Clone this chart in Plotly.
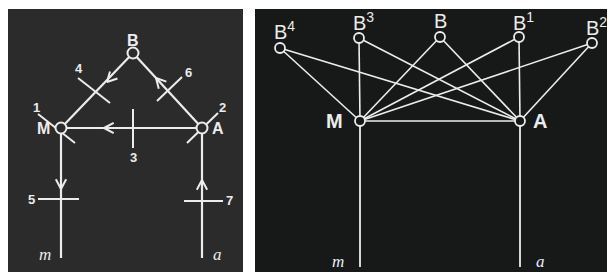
import numpy as np
import plotly.graph_objects as go

# ---------------- data ----------------
# Left diagram nodes (pixel coordinates of the original drawing)
left_nodes = {"M": (61, 128), "A": (202, 128), "B": (133, 53)}
left_feet = {"m": (61, 258), "a": (202, 258)}
left_edges = [("B", "M"), ("B", "A"), ("M", "A")]
left_numbers = ["1", "2", "3", "4", "5", "6", "7"]
left_number_pos = [(36, 107), (222, 107), (133, 157), (79, 68), (31, 199), (188, 72), (229, 200)]
left_crossbars = [((38, 114), (75, 143)), ((187, 143), (218, 113)), ((133, 109), (133, 148)),
                  ((78, 78), (110, 103)), ((38, 199), (79, 199)), ((157, 101), (182, 77)),
                  ((184, 201), (223, 201))]
# arrows: (tip, direction)
left_arrows = [((61, 189), (0, 1)), ((202, 180), (0, -1)), ((104, 128), (-1, 0)),
               ((107, 82), (-72, 75)), ((156, 78), (-69, -75))]

# Right diagram nodes
right_top_names = ["B<sup>4</sup>", "B<sup>3</sup>", "B", "B<sup>1</sup>", "B<sup>2</sup>"]
right_top_x = [280, 359, 440, 519, 592]
right_top_y = [48, 38, 37, 37, 43]
right_label_y = [30, 21, 21, 21, 26]
right_M = (360, 121)
right_A = (520, 121)
right_feet_y = 267

BG_L = "#2b2b2b"
BG_R = "#161918"
INK = "#ececec"
PAGE_MARGIN = 8  # default body margin of the html page

fig = go.Figure()

def seg(p, q, w=2.0, color=INK):
    fig.add_trace(go.Scatter(x=[p[0], q[0]], y=[p[1], q[1]], mode="lines",
                             line=dict(color=color, width=w), hoverinfo="skip", showlegend=False))

# ----- left diagram -----
for a, b in left_edges:
    seg(left_nodes[a], left_nodes[b], 2.2)
seg(left_nodes["M"], left_feet["m"], 2.2)
seg(left_nodes["A"], left_feet["a"], 2.2)
for p, q in left_crossbars:
    seg(p, q, 2.0)
for tip, d in left_arrows:
    d = np.array(d, float); d /= np.linalg.norm(d)
    n = np.array([-d[1], d[0]])
    t = np.array(tip, float)
    L, th = 11, np.radians(28)
    a1 = t - L * (np.cos(th) * d + np.sin(th) * n)
    a2 = t - L * (np.cos(th) * d - np.sin(th) * n)
    fig.add_trace(go.Scatter(x=[a1[0], t[0], a2[0]], y=[a1[1], t[1], a2[1]], mode="lines",
                             line=dict(color=INK, width=2), hoverinfo="skip", showlegend=False))

fig.add_trace(go.Scatter(x=[v[0] for v in left_nodes.values()], y=[v[1] for v in left_nodes.values()],
                         mode="markers", marker=dict(size=11, color=BG_L, line=dict(color=INK, width=2)),
                         hoverinfo="skip", showlegend=False))

big = dict(family="Liberation Sans, Arial", size=16, color=INK)
for name, (x, y) in left_nodes.items():
    off = {"M": (-18, 0), "A": (16, 0), "B": (0, -13)}[name]
    fig.add_annotation(x=x + off[0], y=y + off[1], text="<b>%s</b>" % name, showarrow=False, font=big)
for t, (x, y) in zip(left_numbers, left_number_pos):
    fig.add_annotation(x=x, y=y, text="<b>%s</b>" % t, showarrow=False,
                       font=dict(family="Liberation Sans, Arial", size=13, color=INK))
ital = dict(family="Liberation Serif, DejaVu Serif", size=17, color=INK)
fig.add_annotation(x=left_feet["m"][0] - 16, y=254, text="<i>m</i>", showarrow=False, font=ital)
fig.add_annotation(x=left_feet["a"][0] + 15, y=254, text="<i>a</i>", showarrow=False, font=ital)

# ----- right diagram -----
for x, y in zip(right_top_x, right_top_y):
    seg((x, y), right_M, 1.6)
    seg((x, y), right_A, 1.6)
seg(right_M, right_A, 1.6)
seg(right_M, (right_M[0], right_feet_y), 1.8)
seg(right_A, (right_A[0], right_feet_y), 1.8)
fig.add_trace(go.Scatter(x=right_top_x + [right_M[0], right_A[0]], y=right_top_y + [right_M[1], right_A[1]],
                         mode="markers", marker=dict(size=10, color=BG_R, line=dict(color=INK, width=1.8)),
                         hoverinfo="skip", showlegend=False))
rfont = dict(family="Liberation Sans, Arial", size=20, color=INK)
for name, x, y in zip(right_top_names, right_top_x, right_label_y):
    fig.add_annotation(x=x + (4 if "sup" in name else 0), y=y, text=name, showarrow=False, font=rfont)
fig.add_annotation(x=right_M[0] - 26, y=right_M[1], text="<b>M</b>", showarrow=False, font=rfont)
fig.add_annotation(x=right_A[0] + 20, y=right_A[1], text="<b>A</b>", showarrow=False, font=rfont)
fig.add_annotation(x=right_M[0] - 22, y=261, text="<i>m</i>", showarrow=False, font=ital)
fig.add_annotation(x=right_A[0] + 20, y=261, text="<i>a</i>", showarrow=False, font=ital)

fig.update_layout(
    width=615 - PAGE_MARGIN, height=272 - PAGE_MARGIN, margin=dict(l=0, r=0, t=0, b=0),
    paper_bgcolor="white", plot_bgcolor="white",
    xaxis=dict(range=[PAGE_MARGIN, 615], visible=False, fixedrange=True),
    yaxis=dict(range=[272, PAGE_MARGIN], visible=False, fixedrange=True),
    shapes=[
        dict(type="rect", xref="x", yref="y", x0=4, x1=243, y0=9, y1=272, fillcolor=BG_L, line_width=0, layer="below"),
        dict(type="rect", xref="x", yref="y", x0=255, x1=615, y0=9, y1=272, fillcolor=BG_R, line_width=0, layer="below"),
    ],
)
fig.write_html("out.html")
